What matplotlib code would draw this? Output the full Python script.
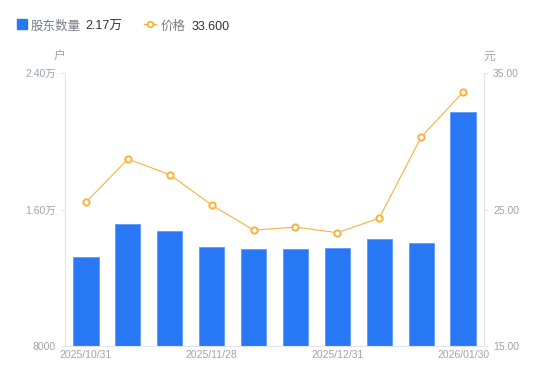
import numpy as np
import matplotlib.pyplot as plt
from matplotlib.lines import Line2D
from matplotlib.patches import Rectangle

plt.rcParams['font.family'] = ['Liberation Sans', 'Noto Sans CJK SC', 'DejaVu Sans']

dates = ["2025/10/31", "2025/11/14", "2025/11/20", "2025/11/28", "2025/12/10",
         "2025/12/19", "2025/12/31", "2026/01/09", "2026/01/20", "2026/01/30"]
holders = [13200, 15150, 14760, 13800, 13680, 13680, 13760, 14270, 14030, 21700]
price = [25.53, 28.69, 27.56, 25.33, 23.49, 23.71, 23.30, 24.37, 30.30, 33.60]

bar_color = '#2878F5'
line_color = '#F8B23A'
tick_color = '#A0A2B0'
axis_color = '#E3E4E8'

fig = plt.figure(figsize=(5.5, 3.81), dpi=100)
ax = fig.add_axes([65/550, 1-346/381, (484-65)/550, (346-73)/381])
ax2 = ax.twinx()

x = np.arange(len(dates))
ax.bar(x, holders, width=0.6, color=bar_color, edgecolor='#5C9BF7', linewidth=0.6, zorder=2)
ax2.plot(x, price, color=line_color, linewidth=0.8, marker='o', markersize=4.5,
         markerfacecolor='white', markeredgecolor=line_color, markeredgewidth=1.4, zorder=3)

ax.set_xlim(-0.5, len(dates) - 0.5)
ax.set_ylim(8000, 24000)
ax.set_yticks([8000, 16000, 24000])
ax.set_yticklabels(['8000', '1.60万', '2.40万'])
ax2.set_ylim(15, 35)
ax2.set_yticks([15, 25, 35])
ax2.set_yticklabels(['15.00', '25.00', '35.00'])

ax.set_xticks(x[::3])
ax.set_xticklabels([dates[i] for i in range(0, len(dates), 3)])

for a in (ax, ax2):
    for s in a.spines.values():
        s.set_visible(False)
    a.tick_params(colors=tick_color, labelsize=7.5, length=3, width=0.8)
    a.tick_params(axis='y', color=axis_color)
ax.tick_params(axis='x', length=0, pad=3)
ax.spines['left'].set_visible(True)
ax.spines['left'].set_color(axis_color)
ax.spines['bottom'].set_visible(True)
ax.spines['bottom'].set_color(axis_color)
ax2.spines['right'].set_visible(True)
ax2.spines['right'].set_color(axis_color)
ax.set_zorder(ax2.get_zorder() - 1)
ax2.patch.set_visible(False)

fig.text(59/550, 1-57/381, '户', color=tick_color, fontsize=8.5, ha='center', va='center')
fig.text(489/550, 1-57/381, '元', color=tick_color, fontsize=8.5, ha='center', va='center')

# legend
ly = 1 - 25/381
fig.patches.append(Rectangle((17/550, 1-29/381), 10/550, 10/381, transform=fig.transFigure,
                             color=bar_color, figure=fig))
fig.text(31/550, ly, '股东数量', color='#7A7C88', fontsize=9, va='center_baseline')
fig.text(85/550, ly, '2.17万', color='#333333', fontsize=9, va='center_baseline')
fig.lines.append(Line2D([144/550, 150/550, 156/550], [1-24/381] * 3, transform=fig.transFigure,
                        color=line_color, linewidth=1, marker='o', markersize=4, markevery=[1],
                        markerfacecolor='white', markeredgecolor=line_color, markeredgewidth=1.3))
fig.text(161/550, ly, '价格', color='#7A7C88', fontsize=9, va='center_baseline')
fig.text(192/550, ly, '33.600', color='#333333', fontsize=9, va='center_baseline')

fig.savefig('out.png', dpi=100)
